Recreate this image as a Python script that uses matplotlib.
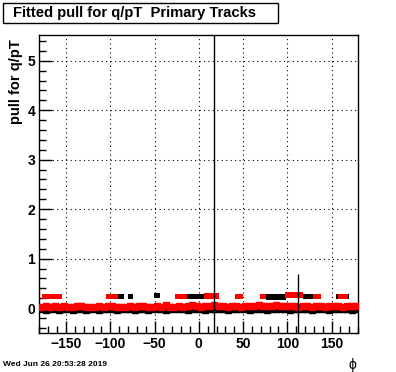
import numpy as np
from matplotlib import pyplot as plt
from matplotlib.patches import Rectangle
from matplotlib.ticker import MultipleLocator

plt.rcParams['font.family'] = ['Liberation Sans', 'DejaVu Sans']

# bin centres of the profile (5 degree bins)
phi_bins = np.arange(-177.5, 180, 5)

# pull per bin, black and red sets
black_band = [-0.02, -0.03, -0.01, -0.02, -0.03, -0.02, -0.01, -0.03, -0.02, -0.02, -0.03, -0.01,
              -0.02, -0.03, -0.02, -0.01, -0.02, -0.03, -0.02, -0.02, -0.01, -0.03, -0.02, -0.02,
              -0.03, -0.02, -0.01, -0.02, -0.03, -0.02, -0.02, -0.01, -0.02, -0.03, -0.02, -0.01,
              -0.02, -0.03, -0.02, -0.02, -0.01, -0.02, -0.03, -0.02, -0.01, -0.02, -0.02, -0.03,
              -0.02, -0.01, -0.02, -0.03, -0.02, -0.02, -0.01, -0.02, -0.03, -0.02, -0.02, -0.01,
              -0.02, -0.03, -0.02, -0.01, -0.02, -0.03, -0.02, -0.02, -0.01, -0.02, -0.03, -0.02]
red_band = [0.03, 0.04, 0.02, 0.05, 0.03, 0.04, 0.03, 0.02, 0.04, 0.05, 0.03, 0.02,
            0.03, 0.04, 0.03, 0.05, 0.04, 0.03, 0.02, 0.03, 0.04, 0.03, 0.05, 0.04,
            0.03, 0.02, 0.04, 0.03, 0.06, 0.03, 0.02, 0.04, 0.03, 0.05, 0.07, 0.04,
            0.03, 0.05, 0.04, 0.06, 0.05, 0.04, 0.03, 0.05, 0.04, 0.03, 0.04, 0.05,
            0.04, 0.06, 0.05, 0.04, 0.05, 0.06, 0.05, 0.04, 0.05, 0.04, 0.03, 0.05,
            0.04, 0.03, 0.05, 0.04, 0.03, 0.04, 0.05, 0.04, 0.03, 0.04, 0.05, 0.04]
band_err = 0.04

# runs of bins sitting at ~0.25 : (phi from, phi to, pull)
black_high = [(-91, -85, 0.24), (-80, -74, 0.24), (-51, -44, 0.26), (-13, 7, 0.24),
              (8, 16, 0.24), (76, 98, 0.23), (118, 129, 0.24), (155, 170, 0.24)]
red_high = [(-177, -155, 0.24), (-105, -91, 0.24), (-27, -13, 0.24), (6, 23, 0.25),
            (41, 50, 0.24), (69, 76, 0.24), (97, 118, 0.27), (129, 138, 0.24),
            (157, 168, 0.24)]

sector_line = 17.3
short_line = (111.7, 0.7)

fig = plt.figure(figsize=(3.96, 3.72), dpi=100)
ax = fig.add_axes([0.0995, 0.105, 0.805, 0.801])

# points at zero
ax.errorbar(phi_bins, black_band, yerr=band_err, fmt='s', color='black',
            markersize=3.8, elinewidth=1, capsize=0, zorder=3)
ax.errorbar(phi_bins, red_band, yerr=band_err, fmt='s', color='red',
            markersize=4.4, elinewidth=1, capsize=0, zorder=4)

# runs at 0.25
for lo, hi, v in black_high:
    ax.bar(lo, 0.11, width=hi - lo, bottom=v - 0.055, align='edge',
           color='black', linewidth=0, zorder=3)
for lo, hi, v in red_high:
    ax.bar(lo, 0.11, width=hi - lo, bottom=v - 0.055, align='edge',
           color='red', linewidth=0, zorder=4)

ax.axvline(sector_line, color='black', linewidth=1, zorder=5)
ax.vlines(short_line[0], -0.5, short_line[1], color='black', linewidth=1, zorder=5)

ax.set_xlim(-180, 180)
ax.set_ylim(-0.5, 5.52)
ax.xaxis.set_major_locator(MultipleLocator(50))
ax.xaxis.set_minor_locator(MultipleLocator(10))
ax.yaxis.set_major_locator(MultipleLocator(1))
ax.yaxis.set_minor_locator(MultipleLocator(0.2))
ax.tick_params(which='both', direction='in', top=False, right=False, width=1)
ax.tick_params(which='major', length=9, labelsize=10, pad=3)
ax.tick_params(which='minor', length=5)
for lab in ax.get_xticklabels() + ax.get_yticklabels():
    lab.set_fontweight('bold')
ax.grid(True, which='major', linestyle=(0, (1, 3)), color='black', linewidth=0.8)
for s in ax.spines.values():
    s.set_linewidth(1)

ax.set_ylabel('pull for q/pT', fontsize=10.5, fontweight='bold', loc='top', labelpad=3)
ax.yaxis.label.set_y(0.985)
fig.text(352 / 396, 1 - 365 / 372, 'ϕ', fontsize=10, ha='center', va='center')
fig.text(3 / 396, 1 - 364 / 372, 'Wed Jun 26 20:53:28 2019', fontsize=6,
         fontweight='bold', ha='left', va='center')

# title box
fig.patches.append(Rectangle((3 / 396, 1 - 23 / 372), 275 / 396, 20 / 372,
                             transform=fig.transFigure, facecolor='white',
                             edgecolor='black', linewidth=1))
fig.text(13 / 396, 1 - 13 / 372, 'Fitted pull for q/pT  Primary Tracks', fontsize=10.6,
         fontweight='bold', ha='left', va='center')

fig.savefig('out.png', dpi=100)
